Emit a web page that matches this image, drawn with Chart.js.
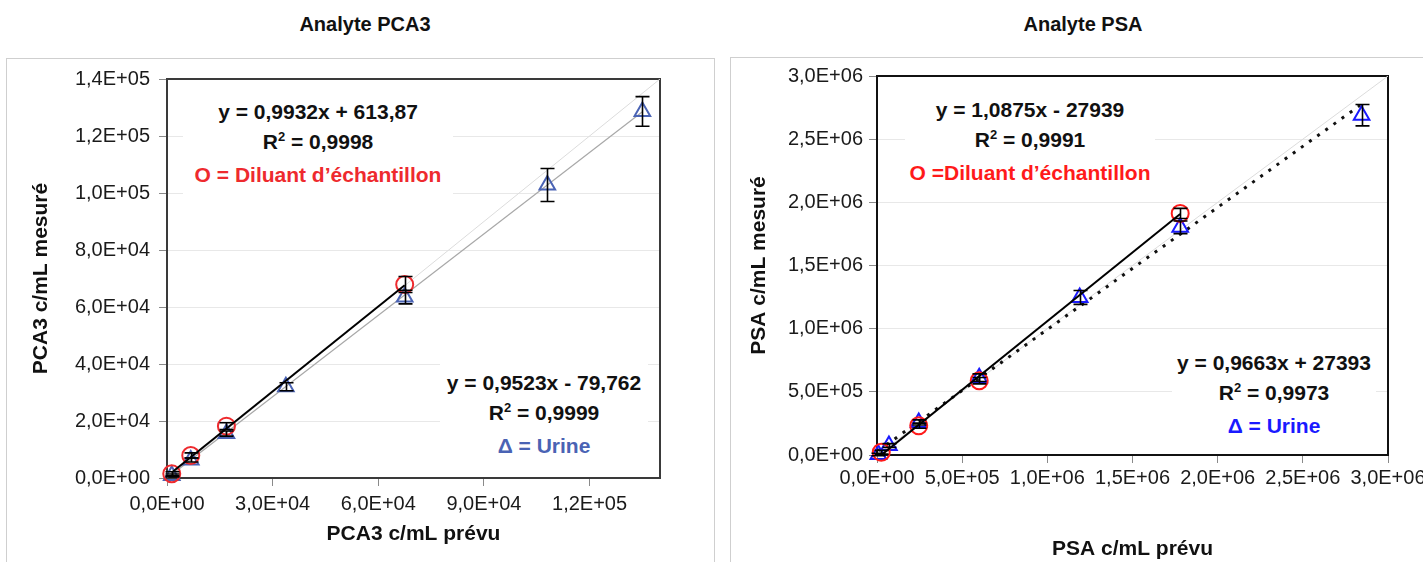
<!DOCTYPE html>
<html>
<head>
<meta charset="utf-8">
<title>Analyte PCA3 / Analyte PSA</title>
<script src="https://cdn.jsdelivr.net/npm/chart.js@4.4.1/dist/chart.umd.min.js"></script>
<style>
  html, body { margin: 0; padding: 0; background: #fff; overflow: hidden; }
  body { width: 1423px; height: 562px; position: relative; font-family: "Liberation Sans", Arial, sans-serif; color: #111; }
  .panel { position: absolute; border: 1px solid #cfcfcf; }
  .title { position: absolute; top: 13px; font-weight: bold; font-size: 20px; transform: translateX(-50%); white-space: nowrap; }
  canvas { position: absolute; }
  .note { position: absolute; background: #fff; text-align: center; font-weight: bold; font-size: 21px; line-height: 30px; white-space: nowrap; }
  .note .sq { font-size: 13px; position: relative; top: -8px; }
  .red { color: #ee2a2e; }
</style>
</head>
<body>

<div class="panel" style="left:6px; top:58px; width:707px; height:560px;"></div>
<div class="panel" style="left:730px; top:57px; width:720px; height:560px;"></div>

<div class="title" style="left:365px;">Analyte PCA3</div>
<div class="title" style="left:1083px;">Analyte PSA</div>

<canvas id="chartPca3" width="712" height="504" style="left:0; top:58px;"></canvas>
<canvas id="chartPsa" width="745" height="504" style="left:725px; top:58px;"></canvas>

<!-- equation boxes (white fill hides the grid lines behind them) -->
<div class="note" style="left:183px; top:97px; width:270px; padding-bottom:10px;">
  y = 0,9932x + 613,87<br>R<span class="sq">2</span> = 0,9998<br><span class="red">O = Diluant d’échantillon</span>
</div>
<div class="note" style="left:440px; top:362px; width:208px; padding-top:6px;">
  y = 0,9523x - 79,762<br>R<span class="sq">2</span> = 0,9999<br><span style="color:#4a63b4;">Δ = Urine</span>
</div>
<div class="note" style="left:905px; top:95px; width:250px;">
  y = 1,0875x - 27939<br>R<span class="sq">2</span> = 0,9991<br><span style="color:#ff1a1a;">O =Diluant d’échantillon</span>
</div>
<div class="note" style="left:1172px; top:348px; width:204px;">
  y = 0,9663x + 27393<br>R<span class="sq">2</span> = 0,9973<br><span style="color:#1a1aff;">Δ = Urine</span>
</div>

<script>
// =========================================
// Linearity – PCA3 / PSA (expected vs measured)
// =========================================

// ---- PCA3 data ----
const pca3XTicks       = [0, 30000, 60000, 90000, 120000];
const pca3YTicks       = [0, 20000, 40000, 60000, 80000, 100000, 120000, 140000];
const pca3Max          = 140000;
const pca3DiluantX     = [1350, 6750, 16875, 67500];
const pca3DiluantY     = [1500, 7900, 18200, 67900];
const pca3DiluantErr   = [700, 900, 1200, 2800];
const pca3UrineX       = [1350, 6750, 16875, 33750, 67500, 108000, 135000];
const pca3UrineY       = [900, 6300, 15600, 32000, 63500, 102800, 128600];
const pca3UrineErr     = [500, 700, 900, 1400, 2400, 5800, 5200];
const pca3DiluantFit   = [0.9932, 613.87];   // slope, intercept
const pca3UrineFit     = [0.9523, -79.762];

// ---- PSA data ----
const psaXTicks        = [0, 500000, 1000000, 1500000, 2000000, 2500000, 3000000];
const psaYTicks        = [0, 500000, 1000000, 1500000, 2000000, 2500000, 3000000];
const psaMax           = 3000000;
const psaDiluantX      = [25000, 245000, 600000, 1780000];
const psaDiluantY      = [22000, 232000, 588000, 1912000];
const psaDiluantErr    = [15000, 20000, 25000, 40000];
const psaUrineX        = [8000, 70000, 245000, 600000, 1190000, 1780000, 2845000];
const psaUrineY        = [4000, 75000, 258000, 612000, 1247000, 1802000, 2690000];
const psaUrineErr      = [10000, 15000, 20000, 30000, 55000, 50000, 85000];
const psaDiluantFit    = [1.0875, -27939];
const psaUrineFit      = [0.9663, 27393];

Chart.defaults.font.family = '"Liberation Sans", Arial, sans-serif';
Chart.defaults.color = '#111';

// ---- helpers ----
function fmtSci(v) {
  if (v === 0) return '0,0E+00';
  const e = Math.floor(Math.log10(Math.abs(v)) + 1e-9);
  const m = v / Math.pow(10, e);
  return m.toFixed(1).replace('.', ',') + 'E+' + String(e).padStart(2, '0');
}

function points(xs, ys) {
  return xs.map(function (x, i) { return { x: x, y: ys[i] }; });
}

function fitLine(fit, xs) {
  const x0 = Math.min.apply(null, xs);
  const x1 = Math.max.apply(null, xs);
  return [{ x: x0, y: fit[0] * x0 + fit[1] }, { x: x1, y: fit[0] * x1 + fit[1] }];
}

// ---- plot frame, drawn before the marks ----
const plotFrame = {
  id: 'plotFrame',
  beforeDatasetsDraw: function (chart, args, opts) {
    const a = chart.chartArea;
    const ctx = chart.ctx;
    ctx.save();
    ctx.strokeStyle = opts.color || '#2a2a2a';
    ctx.lineWidth = 2;
    ctx.strokeRect(a.left, a.top, a.right - a.left, a.bottom - a.top);
    ctx.restore();
  }
};

// ---- vertical error bars (dataset.errors) ----
const errorBars = {
  id: 'errorBars',
  afterDatasetsDraw: function (chart) {
    const ctx = chart.ctx;
    const xs = chart.scales.x;
    const ys = chart.scales.y;
    chart.data.datasets.forEach(function (ds) {
      if (!ds.errors) return;
      ctx.save();
      ctx.strokeStyle = '#000';
      ctx.lineWidth = 1.6;
      ds.data.forEach(function (p, j) {
        const px  = Math.round(xs.getPixelForValue(p.x)) + 0.5;
        const top = ys.getPixelForValue(p.y + ds.errors[j]);
        const bot = ys.getPixelForValue(p.y - ds.errors[j]);
        ctx.beginPath();
        ctx.moveTo(px, top); ctx.lineTo(px, bot);
        ctx.moveTo(px - 7, top); ctx.lineTo(px + 7, top);
        ctx.moveTo(px - 7, bot); ctx.lineTo(px + 7, bot);
        ctx.stroke();
      });
      ctx.restore();
    });
  }
};

function buildChart(id, c) {
  new Chart(document.getElementById(id), {
    type: 'scatter',
    data: {
      datasets: [
        {
          label: 'Diluant fit',
          data: fitLine(c.diluantFit, c.diluantX),
          showLine: true, borderColor: '#000', borderWidth: 2,
          pointRadius: 0, order: 0
        },
        {
          label: 'Diluant',
          data: points(c.diluantX, c.diluantY),
          errors: c.diluantErr,
          pointStyle: 'circle', pointRadius: 8.5, pointBorderWidth: 2,
          borderColor: c.red, backgroundColor: 'rgba(0,0,0,0)', clip: false, order: 1
        },
        {
          label: 'Urine',
          data: points(c.urineX, c.urineY),
          errors: c.urineErr,
          pointStyle: 'triangle', pointRadius: 9, pointBorderWidth: 2,
          borderColor: c.blue, backgroundColor: 'rgba(0,0,0,0)', clip: false, order: 2
        },
        {
          label: 'Urine fit',
          data: fitLine(c.urineFit, c.urineX),
          showLine: true, borderColor: c.urineLine, borderWidth: c.urineWidth,
          borderDash: c.urineDash, pointRadius: 0, order: 3
        },
        {
          label: 'y = x',
          data: [{ x: 0, y: 0 }, { x: c.max, y: c.max }],
          showLine: true, borderColor: '#dcdcdc', borderWidth: 1,
          pointRadius: 0, order: 4
        }
      ]
    },
    options: {
      responsive: false,
      animation: false,
      events: [],
      layout: { padding: c.padding },
      plugins: {
        legend: { display: false },
        tooltip: { enabled: false },
        plotFrame: { color: c.frame }
      },
      scales: {
        x: {
          type: 'linear', min: 0, max: c.max,
          afterBuildTicks: function (s) { s.ticks = c.xTicks.map(function (v) { return { value: v }; }); },
          afterFit: function (s) { s.height = c.xHeight; },
          grid: { drawOnChartArea: false, tickLength: 8, tickColor: '#8a8a8a' },
          border: { display: false },
          ticks: { font: { size: 20 }, color: '#1a1a1a', padding: c.xTickPad, maxRotation: 0, callback: fmtSci },
          title: { display: true, text: c.xTitle, font: { size: 21, weight: 'bold' }, color: '#111', padding: { bottom: c.xTitlePad } }
        },
        y: {
          type: 'linear', min: 0, max: c.max,
          afterBuildTicks: function (s) { s.ticks = c.yTicks.map(function (v) { return { value: v }; }); },
          afterFit: function (s) { s.width = c.yWidth; },
          grid: { color: '#e8e8e8', tickLength: 8, tickColor: '#8a8a8a' },
          border: { display: false },
          ticks: { font: { size: 20 }, color: '#1a1a1a', padding: c.yTickPad, callback: fmtSci },
          title: { display: true, text: c.yTitle, font: { size: 21, weight: 'bold' }, color: '#111', padding: { top: c.yTitlePad } }
        }
      }
    },
    plugins: [plotFrame, errorBars]
  });
}

// ---- PCA3 chart ----
buildChart('chartPca3', {
  max: pca3Max, xTicks: pca3XTicks, yTicks: pca3YTicks,
  diluantX: pca3DiluantX, diluantY: pca3DiluantY, diluantErr: pca3DiluantErr, diluantFit: pca3DiluantFit,
  urineX: pca3UrineX, urineY: pca3UrineY, urineErr: pca3UrineErr, urineFit: pca3UrineFit,
  red: '#ee2a2e', blue: '#4a63b4', frame: '#3a3a3a',
  urineLine: '#a8a8a8', urineWidth: 1.2, urineDash: [],
  xTitle: 'PCA3 c/mL prévu', yTitle: 'PCA3 c/mL mesuré',
  padding: { top: 20, right: 52, left: 0, bottom: 0 },
  yWidth: 167, xHeight: 84,
  xTickPad: 6, yTickPad: 9, xTitlePad: 15, yTitlePad: 29
});

// ---- PSA chart ----
buildChart('chartPsa', {
  max: psaMax, xTicks: psaXTicks, yTicks: psaYTicks,
  diluantX: psaDiluantX, diluantY: psaDiluantY, diluantErr: psaDiluantErr, diluantFit: psaDiluantFit,
  urineX: psaUrineX, urineY: psaUrineY, urineErr: psaUrineErr, urineFit: psaUrineFit,
  red: '#ff1a1a', blue: '#1a1aff', frame: '#111',
  urineLine: '#111', urineWidth: 3, urineDash: [3, 7],
  xTitle: 'PSA c/mL prévu', yTitle: 'PSA c/mL mesuré',
  padding: { top: 17, right: 82, left: 0, bottom: 0 },
  yWidth: 152, xHeight: 107,
  xTickPad: 3, yTickPad: 6, xTitlePad: 0, yTitlePad: 22
});
</script>
</body>
</html>
